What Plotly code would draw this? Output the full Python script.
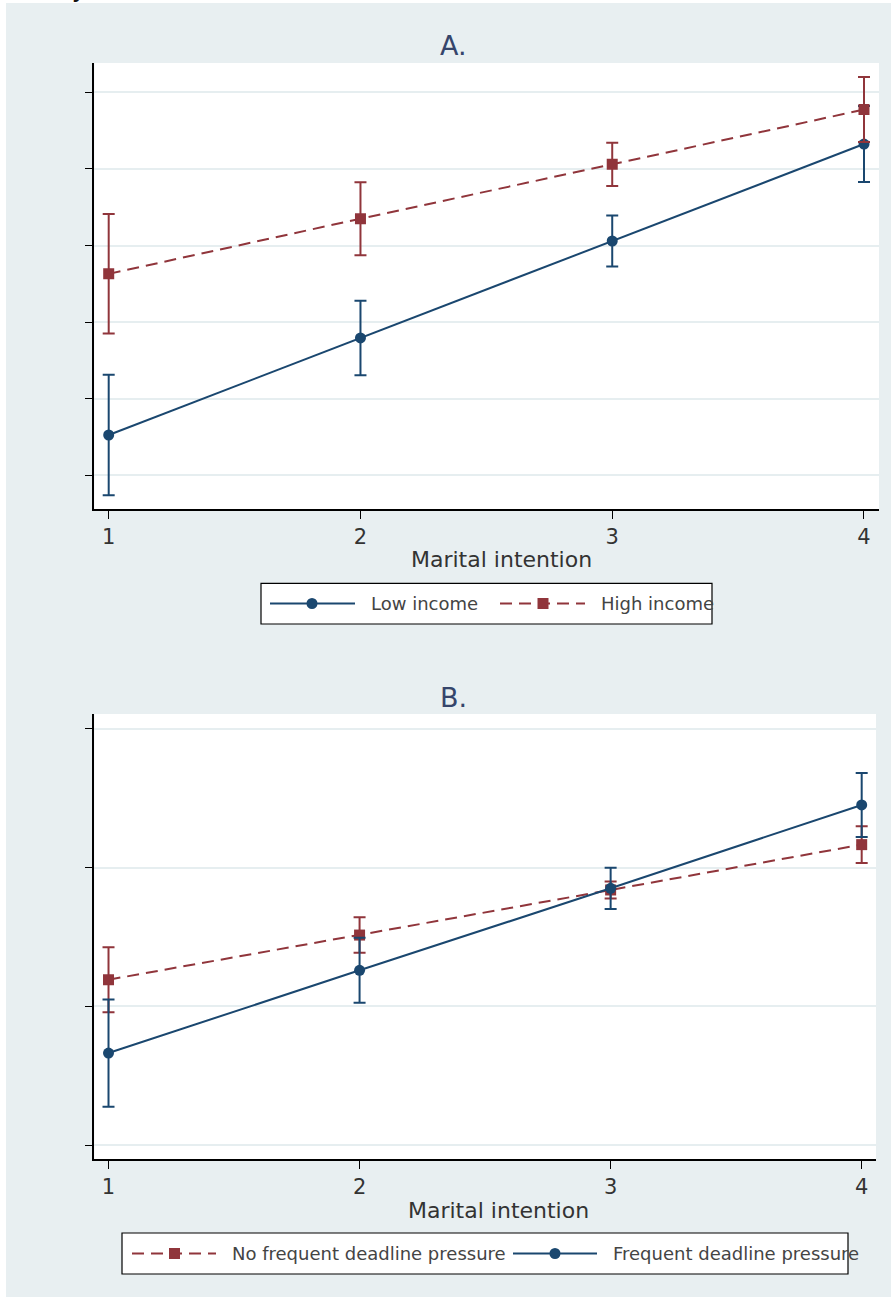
import plotly.graph_objects as go

W, H = 891, 1297
FONT = "DejaVu Sans"
BLUE = "#1a476f"
RED = "#90353b"
BG = "#e8eff1"
GRID = "#e6eef0"
DASH = "12px,7px"

intention = [1, 2, 3, 4]
tick_text = ["1", "2", "3", "4"]

# Panel A
a_low = [0.526, 1.793, 3.059, 4.325]
a_low_err = [0.786, 0.487, 0.333, 0.496]
a_high = [2.63, 3.35, 4.06, 4.775]
a_high_err = [0.78, 0.477, 0.283, 0.425]
a_yticks = [0, 1, 2, 3, 4, 5]

# Panel B
b_nofreq = [1.192, 1.514, 1.839, 2.166]
b_nofreq_err = [0.234, 0.128, 0.061, 0.132]
b_freq = [0.663, 1.260, 1.851, 2.452]
b_freq_err = [0.387, 0.234, 0.149, 0.231]
b_yticks = [0, 1, 2, 3]

xlab = "Marital intention"


def px(x):
    return x / W


def py(y):
    return 1 - y / H


fig = go.Figure()


def add_series(x, y, err, color, symbol, dash, name, xa, ya):
    fig.add_trace(go.Scatter(
        x=x, y=y, name=name, mode="lines+markers",
        xaxis=xa, yaxis=ya, showlegend=False,
        line=dict(color=color, width=2, dash=dash),
        marker=dict(color=color, size=11, symbol=symbol),
        error_y=dict(type="data", array=err, visible=True, color=color,
                     thickness=2, width=6),
    ))


add_series(intention, a_low, a_low_err, BLUE, "circle", "solid", "Low income", "x", "y")
add_series(intention, a_high, a_high_err, RED, "square", DASH, "High income", "x", "y")
add_series(intention, b_nofreq, b_nofreq_err, RED, "square", DASH,
           "No frequent deadline pressure", "x2", "y2")
add_series(intention, b_freq, b_freq_err, BLUE, "circle", "solid",
           "Frequent deadline pressure", "x2", "y2")

axis_common = dict(
    showline=True, linecolor="black", linewidth=1.5,
    ticks="outside", ticklen=8, tickwidth=1.3, tickcolor="black",
    zeroline=False,
)

fig.update_layout(
    width=W, height=H,
    margin=dict(l=0, r=0, t=0, b=0),
    paper_bgcolor=BG, plot_bgcolor="white",
    showlegend=False,
    font=dict(family=FONT, color="#333333"),
    xaxis=dict(domain=[px(94.3), px(879)], range=[0.9428, 4.0596], anchor="y",
               tickvals=intention, ticktext=tick_text, showgrid=False,
               tickfont=dict(size=21, color="#333333"), **axis_common),
    yaxis=dict(domain=[py(509), py(63)], range=[-0.44, 5.383], anchor="x",
               tickvals=a_yticks, showticklabels=False, showgrid=True,
               gridcolor=GRID, gridwidth=2, **axis_common),
    xaxis2=dict(domain=[px(94.3), px(876)], range=[0.9434, 4.057], anchor="y2",
                tickvals=intention, ticktext=tick_text, showgrid=False,
                tickfont=dict(size=21, color="#333333"), **axis_common),
    yaxis2=dict(domain=[py(1159.3), py(714)], range=[-0.103, 3.108], anchor="x2",
                tickvals=b_yticks, showticklabels=False, showgrid=True,
                gridcolor=GRID, gridwidth=2, **axis_common),
)

shapes = []
annotations = []
# white strips at top and left edges
shapes.append(dict(type="rect", xref="paper", yref="paper", x0=0, x1=1, y0=py(3), y1=1,
                   fillcolor="white", line=dict(width=0), layer="below"))
shapes.append(dict(type="rect", xref="paper", yref="paper", x0=0, x1=px(6), y0=0, y1=1,
                   fillcolor="white", line=dict(width=0), layer="below"))

# titles
annotations.append(dict(text="A.", x=px(453), y=py(45), xref="paper", yref="paper",
                        xanchor="center", yanchor="middle", showarrow=False,
                        font=dict(size=27, color="#35456b")))
annotations.append(dict(text="B.", x=px(453), y=py(698), xref="paper", yref="paper",
                        xanchor="center", yanchor="middle", showarrow=False,
                        font=dict(size=27, color="#35456b")))
annotations.append(dict(text=xlab, x=px(501), y=py(560), xref="paper", yref="paper",
                        xanchor="center", yanchor="middle", showarrow=False,
                        font=dict(size=22, color="#333333")))
annotations.append(dict(text=xlab, x=px(498), y=py(1210), xref="paper", yref="paper",
                        xanchor="center", yanchor="middle", showarrow=False,
                        font=dict(size=22, color="#333333")))
# cropped letter at the very top (only its tail is visible in the source image)
annotations.append(dict(text="<b>y</b>", x=px(78), y=1, xref="paper", yref="paper",
                        xanchor="center", yanchor="bottom", yshift=-4, showarrow=False,
                        font=dict(size=18, color="#111111")))


def legend_box(x0, x1, y0, y1):
    shapes.append(dict(type="rect", xref="paper", yref="paper",
                       x0=px(x0), x1=px(x1), y0=py(y1), y1=py(y0),
                       fillcolor="white", line=dict(color="black", width=1.2)))


def legend_item(lx0, lx1, ly, mx, color, symbol, dash, text, tx):
    shapes.append(dict(type="line", xref="paper", yref="paper",
                       x0=px(lx0), x1=px(lx1), y0=py(ly), y1=py(ly),
                       line=dict(color=color, width=2, dash=dash)))
    r = 5.5
    shapes.append(dict(type="circle" if symbol == "circle" else "rect",
                       xref="paper", yref="paper",
                       x0=px(mx - r), x1=px(mx + r), y0=py(ly + r), y1=py(ly - r),
                       fillcolor=color, line=dict(color=color, width=0)))
    annotations.append(dict(text=text, x=px(tx), y=py(ly), xref="paper", yref="paper",
                            xanchor="left", yanchor="middle", showarrow=False,
                            font=dict(size=18, color="#444444")))


legend_box(261, 712, 583.3, 624)
legend_item(270, 355, 603.5, 312, BLUE, "circle", "solid", "Low income", 369)
legend_item(500, 585, 603.5, 543, RED, "square", DASH, "High income", 599)

legend_box(122, 848, 1233, 1274)
legend_item(132, 216, 1253.5, 174.5, RED, "square", DASH,
            "No frequent deadline pressure", 230)
legend_item(513, 597, 1253.5, 555, BLUE, "circle", "solid",
            "Frequent deadline pressure", 611)

fig.update_layout(shapes=shapes, annotations=annotations)

fig.write_html("out.html")
